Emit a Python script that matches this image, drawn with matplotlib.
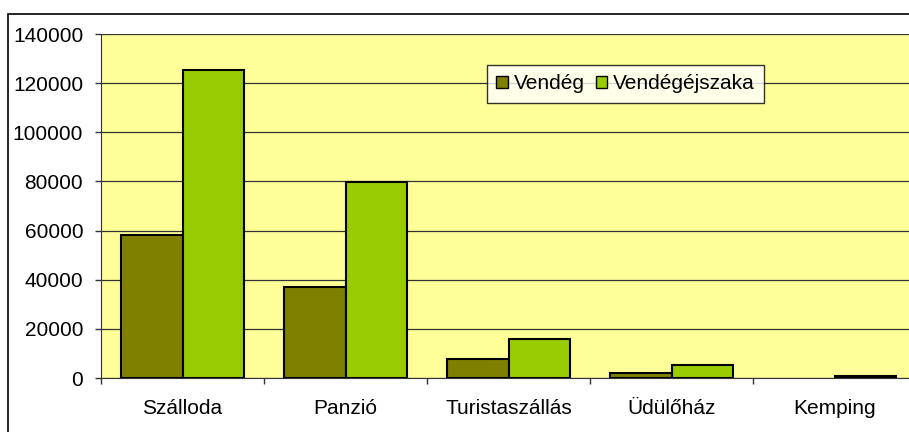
import numpy as np
import matplotlib
matplotlib.use("Agg")
import matplotlib.pyplot as plt
from matplotlib.patches import Rectangle

plt.rcParams['font.family'] = ['Liberation Sans', 'DejaVu Sans']

# data
categories = ["Szálloda", "Panzió", "Turistaszállás", "Üdülőház", "Kemping"]
vendeg = [58400, 37200, 7800, 2000, 0]
vendegejszaka = [125300, 79600, 15900, 5400, 700]
yticks = [0, 20000, 40000, 60000, 80000, 100000, 120000, 140000]

W, H = 909, 432
fig = plt.figure(figsize=(W / 100, H / 100), dpi=100)

# outer chart border (runs off the right/bottom edge like the original)
fig.patches.append(Rectangle((8 / W, -0.05), 1.1, 1 - 14 / H + 0.05,
                             transform=fig.transFigure, fill=False,
                             edgecolor="black", linewidth=1.2))

left, right, top, bottom = 101, 916, 34, 378
ax = fig.add_axes([left / W, 1 - bottom / H, (right - left) / W, (bottom - top) / H])
ax.set_facecolor("#FFFF99")

x = np.arange(len(categories))
w = 0.377
b1 = ax.bar(x - w / 2, vendeg, w, color="#808000", edgecolor="black", linewidth=1.5,
            label="Vendég", zorder=3)
b2 = ax.bar(x + w / 2, vendegejszaka, w, color="#99CC00", edgecolor="black", linewidth=1.5,
            label="Vendégéjszaka", zorder=3)
for bars, vals in [(b1, vendeg), (b2, vendegejszaka)]:
    for r, v in zip(bars, vals):
        if v == 0:
            r.set_visible(False)

ax.set_xlim(-0.5, len(categories) - 0.5)
ax.set_ylim(0, 140000)
ax.set_yticks(yticks)
ax.set_yticklabels([str(v) for v in yticks], fontsize=15)
ax.yaxis.grid(True, color="#333333", linewidth=0.9, zorder=0)

ax.set_xticks(x)
ax.set_xticklabels(categories, fontsize=15)
ax.set_xticks(np.arange(len(categories) + 1) - 0.5, minor=True)
ax.tick_params(axis="x", which="major", length=0, pad=15)
ax.tick_params(axis="x", which="minor", length=4.3, width=1, color="#333333")
ax.tick_params(axis="y", length=4.3, width=1, color="#333333", pad=8.5)

for s in ["top", "right"]:
    ax.spines[s].set_visible(False)
ax.spines["left"].set_color("#333333")
ax.spines["bottom"].set_color("#333333")

leg = ax.legend(loc="upper left", bbox_to_anchor=((487 - left) / (right - left),
                                                   (bottom - 65) / (bottom - top)),
                ncol=2, fontsize=15, frameon=True, fancybox=False,
                handlelength=0.55, handleheight=0.55, handletextpad=0.3,
                columnspacing=0.5, borderpad=0.45, borderaxespad=0)
leg.get_frame().set_edgecolor("black")
leg.get_frame().set_linewidth(1.0)
leg.get_frame().set_facecolor("white")
for hnd in leg.legend_handles:
    hnd.set_linewidth(1.0)

fig.savefig("out.png", dpi=100)
